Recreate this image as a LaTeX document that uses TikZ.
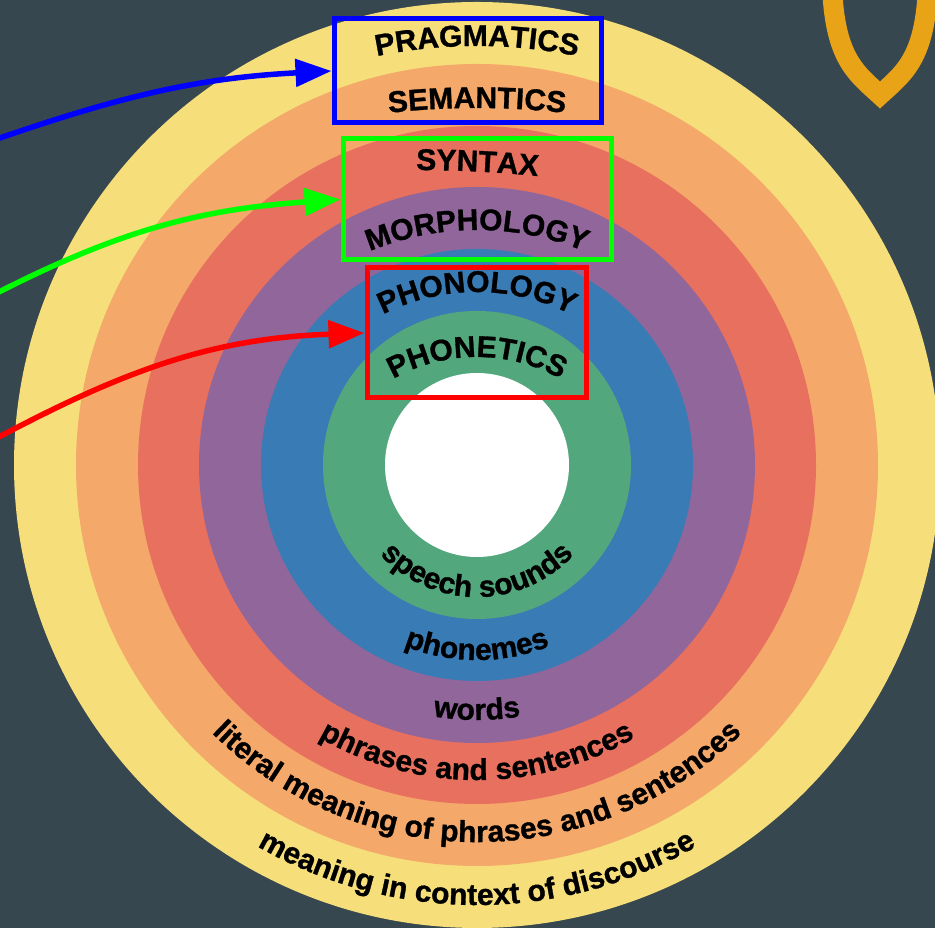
\documentclass[tikz,border=0pt]{standalone}
\usepackage{fontspec}
\setmainfont[BoldFeatures={FakeBold=1.0}]{Liberation Sans}
\usetikzlibrary{arrows.meta,decorations.text,calc}
\definecolor{bgc}{HTML}{37474F}
\definecolor{ryellow}{HTML}{F6DF7A}
\definecolor{rorange}{HTML}{F4A86A}
\definecolor{rred}{HTML}{E8705E}
\definecolor{rpurple}{HTML}{91669B}
\definecolor{rblue}{HTML}{397BB5}
\definecolor{rgreen}{HTML}{52A77D}
\definecolor{shieldc}{HTML}{E8A317}
\newcommand\lblfont{\fontsize{30}{36}\selectfont\bfseries}
\begin{document}
\begin{tikzpicture}[x=1pt,y=1pt,
  lblbox/.style={draw, line width=5pt, inner sep=0pt},
  pointer/.style={line width=5.5pt, -{Triangle[length=36pt,width=27pt]}},
  arclabel/.style={decorate, decoration={text along path, text align=center, text={|\lblfont|#1}}}]
\useasboundingbox (0,0) rectangle (935,928);
\fill[bgc] (0,0) rectangle (935,928);
\begin{scope}
\clip (0,0) rectangle (935,928);
\coordinate (c) at (477,463);
\fill[ryellow] (c) circle[radius=463pt];
\fill[rorange] (c) circle[radius=401pt];
\fill[rred] (c) circle[radius=339pt];
\fill[rpurple] (c) circle[radius=278pt];
\fill[rblue] (c) circle[radius=216pt];
\fill[rgreen] (c) circle[radius=154pt];
\fill[white] (c) circle[radius=92pt];
% shield shape
\draw[shieldc, line width=20pt, miter limit=10] (832,945) .. controls (834,870) and (856,855) .. (880,833) .. controls (904,855) and (926,870) .. (928,945);
% top labels
\path[arclabel={PRAGMATICS}] ($(477,382)+(110:500pt)$) arc[start angle=110, end angle=70, radius=500pt];
\path[arclabel={SEMANTICS}] ($(477,20)+(102:800pt)$) arc[start angle=102, end angle=78, radius=800pt];
\path[arclabel={SYNTAX}] ($(417,-442)+(93.13:1200pt)$) arc[start angle=93.13, end angle=81.13, radius=1200pt];
\path[arclabel={MORPHOLOGY}] ($(477,417)+(125:281pt)$) arc[start angle=125, end angle=55, radius=281pt];
\path[arclabel={PHONOLOGY}] ($(477,428)+(130:208pt)$) arc[start angle=130, end angle=50, radius=208pt];
\path[arclabel={PHONETICS}] ($(477,401)+(135:170pt)$) arc[start angle=135, end angle=45, radius=170pt];
% bottom labels
\path[arclabel={speech sounds}] ($(c)+(195:132pt)$) arc[start angle=195, end angle=345, radius=132pt];
\path[arclabel={phonemes}] ($(c)+(230:195pt)$) arc[start angle=230, end angle=310, radius=195pt];
\path[arclabel={words}] ($(c)+(240:255pt)$) arc[start angle=240, end angle=300, radius=255pt];
\path[arclabel={phrases and sentences}] ($(c)+(220:315pt)$) arc[start angle=220, end angle=320, radius=315pt];
\path[arclabel={literal meaning of phrases and sentences}] ($(c)+(200:377pt)$) arc[start angle=200, end angle=340, radius=377pt];
\path[arclabel={meaning in context of discourse}] ($(c)+(220:440pt)$) arc[start angle=220, end angle=320, radius=440pt];
% boxes
\node[lblbox, draw=blue, minimum width=267pt, minimum height=104pt] (bbox) at (467.5,857) {};
\node[lblbox, draw=green, minimum width=268pt, minimum height=121pt] (gbox) at (477,728.5) {};
\node[lblbox, draw=red, minimum width=219pt, minimum height=130pt] (rbox) at (476.5,595) {};
% arrows
\coordinate (bstart) at (-3,789);
\coordinate (gstart) at (-3,635);
\coordinate (rstart) at (-3,490);
\draw[pointer, blue] (bstart) to[out=19, in=183] (bbox.west);
\draw[pointer, green] (gstart) to[out=27, in=184] (gbox.west);
\draw[pointer, red] (rstart) to[out=28, in=182] (rbox.west);
\end{scope}
\end{tikzpicture}
\end{document}
